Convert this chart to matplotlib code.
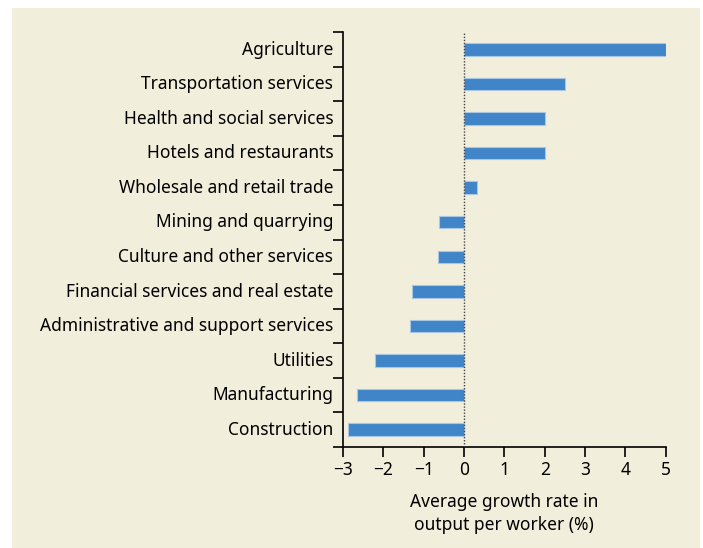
import numpy as np
import matplotlib
matplotlib.use('Agg')
import matplotlib.pyplot as plt
from matplotlib.patches import Rectangle

matplotlib.rcParams['font.family'] = ['Noto Sans', 'DejaVu Sans']
matplotlib.rcParams['font.size'] = 12.5

# data, top to bottom as in the chart
sectors = ['Agriculture', 'Transportation services', 'Health and social services',
           'Hotels and restaurants', 'Wholesale and retail trade', 'Mining and quarrying',
           'Culture and other services', 'Financial services and real estate',
           'Administrative and support services', 'Utilities', 'Manufacturing',
           'Construction']
growth = [5.0, 2.5, 2.02, 2.01, 0.33, -0.62, -0.64, -1.29, -1.34, -2.2, -2.66, -2.88]
xticks = [-3, -2, -1, 0, 1, 2, 3, 4, 5]

bg = '#f2eedc'
fig = plt.figure(figsize=(7.03, 5.48), dpi=100, facecolor='white')
fig.patches.append(Rectangle((12/703, -0.02), 688/703, 1.02 - 8/548, transform=fig.transFigure,
                             facecolor=bg, edgecolor='none', zorder=-10))
ax = fig.add_axes([343/703, 1-447/548, 322.7/703, 415/548])
ax.set_facecolor(bg)

n = len(sectors)
ypos = np.arange(n)[::-1]
ax.barh(ypos, growth, height=0.36, color='#3f85c8', edgecolor='#a9c6e4', linewidth=0.8, zorder=2)
ax.axvline(0, color='#444444', linestyle=(0, (1, 1.2)), linewidth=1, zorder=3)

ax.set_xlim(-3, 5)
ax.set_ylim(-0.5, n - 0.5)
ax.set_xticks(xticks)
ax.set_xticklabels([str(t).replace('-', '\u2212') for t in xticks])
ax.set_yticks(np.arange(-0.5, n, 1))
ax.set_yticklabels([])
ax.set_yticks(ypos + 0.05, minor=True)
ax.set_yticklabels(sectors, minor=True)
ax.tick_params(axis='y', which='major', length=7, width=1.2, direction='out')
ax.tick_params(axis='y', which='minor', length=0, pad=7)
ax.tick_params(axis='x', length=7, width=1.2, direction='out', pad=3)
for s in ['top', 'right']:
    ax.spines[s].set_visible(False)
for s in ['left', 'bottom']:
    ax.spines[s].set_linewidth(1.2)
ax.set_xlabel('Average growth rate in\noutput per worker (%)', labelpad=10, linespacing=1.35)

fig.savefig('out.png', dpi=100, facecolor='white')
